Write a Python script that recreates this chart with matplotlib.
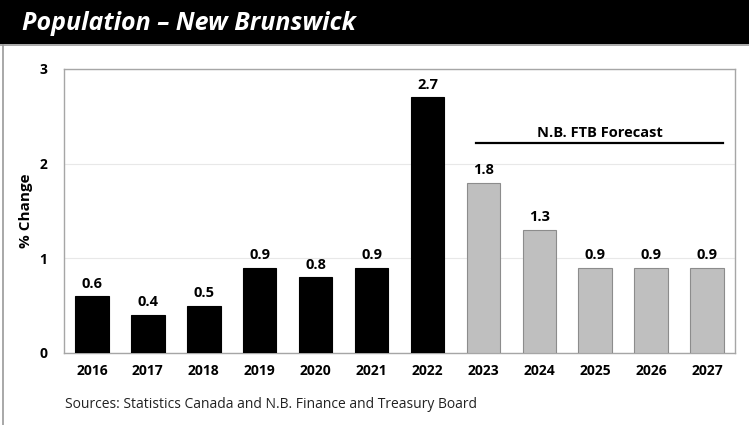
import matplotlib.pyplot as plt
from matplotlib.patches import Rectangle
from matplotlib.lines import Line2D

plt.rcParams['font.family'] = ['Open Sans', 'DejaVu Sans']

years = ['2016', '2017', '2018', '2019', '2020', '2021', '2022',
         '2023', '2024', '2025', '2026', '2027']
values = [0.6, 0.4, 0.5, 0.9, 0.8, 0.9, 2.7, 1.8, 1.3, 0.9, 0.9, 0.9]
forecast = [False] * 7 + [True] * 5

W, H = 749, 425
fig = plt.figure(figsize=(W / 100, H / 100), dpi=100)

# title bar
fig.patches.append(Rectangle((0, 1 - 44 / H), 1, 44 / H, transform=fig.transFigure,
                             facecolor='black', edgecolor='none', zorder=0))
fig.lines.append(Line2D([0, 1], [1 - 45 / H, 1 - 45 / H], transform=fig.transFigure,
                        color='#999999', lw=1.2))
fig.lines.append(Line2D([3.5 / W, 3.5 / W], [0, 1 - 45 / H], transform=fig.transFigure,
                        color='#999999', lw=1.2))
fig.text(22 / W, 1 - 24 / H, 'Population – New Brunswick', color='white',
         fontsize=18, fontweight='bold', fontstyle='italic', va='center', ha='left')

ax = fig.add_axes([64 / W, 1 - 353 / H, (735 - 64) / W, (353 - 69) / H])
x = range(len(years))
colors = ['#bfbfbf' if f else 'black' for f in forecast]
edges = ['#8c8c8c' if f else 'black' for f in forecast]
ax.bar(x, values, width=0.6, color=colors, edgecolor=edges, linewidth=0.8, zorder=3)
for i, v in zip(x, values):
    ax.text(i, v + 0.06, f'{v:.1f}', ha='center', va='bottom',
            fontsize=10.5, fontweight='bold')

ax.set_xlim(-0.5, len(years) - 0.5)
ax.set_ylim(0, 3)
ax.set_yticks([0, 1, 2, 3])
ax.set_xticks(list(x))
ax.set_xticklabels(years)
ax.grid(axis='y', color='#e8e8e8', lw=0.8, zorder=0)
for lab in ax.get_xticklabels() + ax.get_yticklabels():
    lab.set_fontweight('bold')
    lab.set_fontsize(10)
ax.tick_params(length=0, pad=8)
ax.tick_params(axis='y', pad=12)
for s in ax.spines.values():
    s.set_color('#a6a6a6')
    s.set_linewidth(1)
ax.set_ylabel('% Change', fontsize=11, fontweight='bold')
ax.yaxis.set_label_coords(-0.046, 0.5)

# forecast marker
ax.plot([6.87, 11.29], [2.22, 2.22], color='black', lw=1.6, zorder=4)
ax.text(9.08, 2.25, 'N.B. FTB Forecast', ha='center', va='bottom',
        fontsize=10.5, fontweight='bold')

fig.text(65 / W, 1 - 405 / H, 'Sources: Statistics Canada and N.B. Finance and Treasury Board',
         fontsize=10, va='center', ha='left', color='#222222')

fig.savefig('out.png', dpi=100)
